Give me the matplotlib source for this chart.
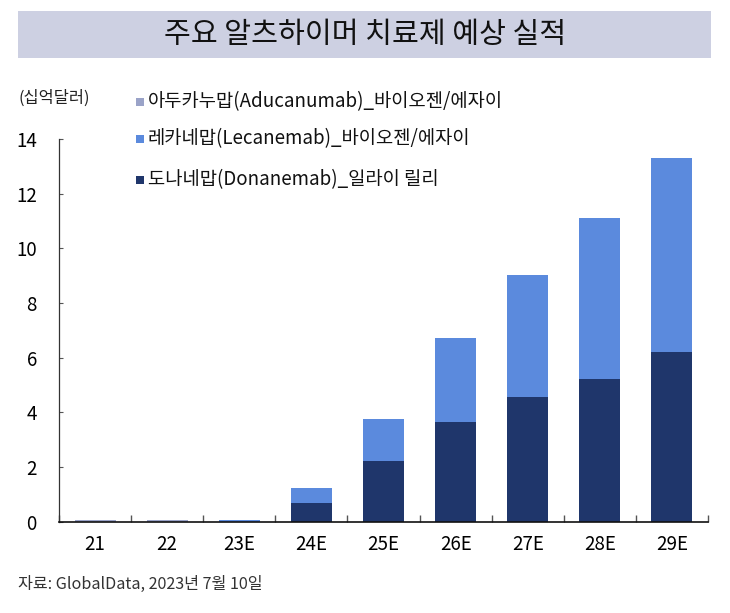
import matplotlib
matplotlib.use("Agg")
import matplotlib.pyplot as plt
from matplotlib.patches import Rectangle
import numpy as np

plt.rcParams['font.family'] = ['Noto Sans CJK KR', 'DejaVu Sans']

categories = ["21", "22", "23E", "24E", "25E", "26E", "27E", "28E", "29E"]
donanemab = [0.0, 0.0, 0.0, 0.68, 2.21, 3.65, 4.57, 5.22, 6.20]
lecanemab = [0.0, 0.0, 0.08, 0.54, 1.54, 3.07, 4.45, 5.88, 7.09]
aducanumab = [0.06, 0.06, 0.0, 0.02, 0.0, 0.0, 0.0, 0.0, 0.0]
series_names = ["아두카누맙(Aducanumab)_바이오젠/에자이",
                "레카네맙(Lecanemab)_바이오젠/에자이",
                "도나네맙(Donanemab)_일라이 릴리"]
yticks = [0, 2, 4, 6, 8, 10, 12, 14]

c_adu = "#9AA3C8"
c_lec = "#5B8ADD"
c_don = "#1F366B"

fig = plt.figure(figsize=(7.3, 6.13), dpi=100)

# title banner
fig.patches.append(Rectangle((18/730, 1-58/613), (711-18)/730, 47/613,
                             transform=fig.transFigure, facecolor="#CDD0E2",
                             edgecolor="none", zorder=0))
fig.text(365/730, 1-35/613, "주요 알츠하이머 치료제 예상 실적", ha="center", va="center",
         fontsize=21, color="#111111")

ax = fig.add_axes([59/730, 1-521.7/613, (708-59)/730, (521.7-139)/613])
x = np.arange(len(categories))
w = 0.57
don = np.array(donanemab)
lec = np.array(lecanemab)
adu = np.array(aducanumab)
ax.bar(x, don, w, color=c_don, zorder=2)
ax.bar(x, lec, w, bottom=don, color=c_lec, zorder=2)
ax.bar(x, adu, w, bottom=don + lec, color=c_adu, zorder=2)

ax.set_xlim(-0.5, len(categories) - 0.5)
ax.set_ylim(0, 14)
ax.set_yticks(yticks)
ax.set_yticklabels([str(v) for v in yticks], fontsize=13.5)
ax.tick_params(axis='y', direction='in', length=3, width=0.8, color="#555555", pad=16)
ax.set_xticks(x)
ax.set_xticklabels(categories, fontsize=13.5)
ax.tick_params(axis='x', length=0, pad=9)
ax.set_xticks(np.arange(len(categories) + 1) - 0.5, minor=True)
ax.tick_params(axis='x', which='minor', direction='in', length=5, width=1, color="#555555")
for s in ["top", "right"]:
    ax.spines[s].set_visible(False)
ax.spines["left"].set_color("#333333")
ax.spines["bottom"].set_color("#111111")
ax.spines["left"].set_linewidth(0.9)
ax.spines["bottom"].set_linewidth(1.2)

# legend (manual)
leg_y = [102, 139, 180]
leg_c = [c_adu, c_lec, c_don]
for yy, cc, name in zip(leg_y, leg_c, series_names):
    fig.patches.append(Rectangle((136/730, 1-(yy+4)/613), 8/730, 8/613,
                                 transform=fig.transFigure, facecolor=cc, edgecolor="none"))
    fig.text(148/730, 1-yy/613, name, ha="left", va="center", fontsize=13.5, color="#111111")

fig.text(18/730, 1-98/613, "(십억달러)", ha="left", va="center", fontsize=11.8, color="#222222")
fig.text(18/730, 1-584/613, "자료: GlobalData, 2023년 7월 10일", ha="left", va="center",
         fontsize=11.6, color="#333333")

fig.savefig("out.png", dpi=100)
